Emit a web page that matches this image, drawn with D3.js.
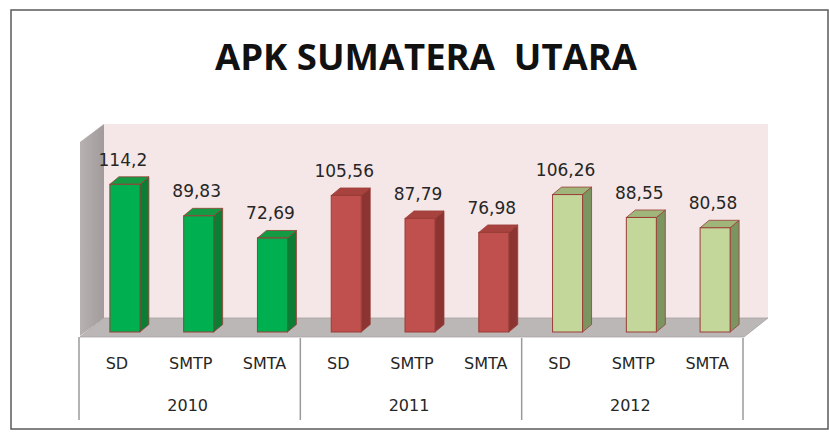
<!DOCTYPE html>
<html>
<head>
<meta charset="utf-8">
<script src="https://cdn.jsdelivr.net/npm/d3@7"></script>
<style>
  body { margin: 0; background: #fff; }
  svg { display: block; }
</style>
</head>
<body>
<svg id="chart" width="829" height="432"></svg>
<script>
// data
var years = ["2010", "2011", "2012"];
var levels = ["SD", "SMTP", "SMTA"];
var apk2010 = [114.2, 89.83, 72.69];
var apk2011 = [105.56, 87.79, 76.98];
var apk2012 = [106.26, 88.55, 80.58];
var labels2010 = ["114,2", "89,83", "72,69"];
var labels2011 = ["105,56", "87,79", "76,98"];
var labels2012 = ["106,26", "88,55", "80,58"];
var title = "APK SUMATERA  UTARA";

var series = [apk2010, apk2011, apk2012];
var seriesLabels = [labels2010, labels2011, labels2012];
var colors = [
    {front: "#00b050", side: "#0b7d34", top: "#159a44"},
    {front: "#c0504d", side: "#8c3431", top: "#a8423f"},
    {front: "#c4d79b", side: "#7c9460", top: "#9fb57a"}
];

var svg = d3.select("#chart");

// plot box
var left = 80, right = 744, base = 336;
var depthX = 24, depthY = 18;
var wallH = 194;

var x0 = d3.scaleBand().domain(years).range([left, right]);
var x1 = d3.scaleBand().domain(levels).range([0, x0.bandwidth()]);
var y = d3.scaleLinear().domain([0, 150]).range([0, wallH]);

// outer frame
svg.append("rect")
    .attr("x", 11).attr("y", 10)
    .attr("width", 817).attr("height", 419)
    .attr("fill", "#fff")
    .attr("stroke", "#5a5a5a")
    .attr("stroke-width", 1.5);

// title
svg.append("text")
    .attr("x", 426).attr("y", 70)
    .attr("text-anchor", "middle")
    .attr("font-family", "'Open Sans', sans-serif")
    .attr("font-weight", "bold")
    .attr("font-size", 35)
    .attr("fill", "#111")
    .attr("textLength", 422)
    .attr("lengthAdjust", "spacingAndGlyphs")
    .style("white-space", "pre")
    .text(title);

// back wall
svg.append("rect")
    .attr("x", left + depthX).attr("y", base - depthY - wallH)
    .attr("width", right - left).attr("height", wallH)
    .attr("fill", "#f5e7e7");

// side wall
var sideGrad = svg.append("defs").append("linearGradient")
    .attr("id", "sideGrad").attr("x1", 0).attr("x2", 1);
sideGrad.append("stop").attr("offset", 0).attr("stop-color", "#b7b1b1");
sideGrad.append("stop").attr("offset", 1).attr("stop-color", "#a29b9b");

svg.append("path")
    .attr("d", d3.line()([
        [left, base], [left + depthX, base - depthY],
        [left + depthX, base - depthY - wallH], [left, base - wallH]
    ]) + "Z")
    .attr("fill", "url(#sideGrad)");

// floor
svg.append("path")
    .attr("d", d3.line()([
        [left, base + 1], [left + depthX, base - depthY],
        [right + depthX, base - depthY], [right, base + 1]
    ]) + "Z")
    .attr("fill", "#bcb7b7")
    .attr("stroke", "#a8a3a3")
    .attr("stroke-width", 0.8);

// bars
var barW = 30, bdx = 9, bdy = 7.5, shiftX = 8, barBase = 332;
var bars = [];
years.forEach(function(yr, i) {
    levels.forEach(function(lv, j) {
        bars.push({year: yr, level: lv, value: series[i][j], label: seriesLabels[i][j], c: colors[i]});
    });
});

var g = svg.append("g");
bars.forEach(function(d) {
    var cx = x0(d.year) + x1(d.level) + x1.bandwidth() / 2 + shiftX;
    var xl = cx - barW / 2, xr = cx + barW / 2;
    var top = barBase - y(d.value);

    g.append("path")
        .attr("d", d3.line()([[xr, barBase], [xr + bdx, barBase - bdy], [xr + bdx, top - bdy], [xr, top]]) + "Z")
        .attr("fill", d.c.side).attr("stroke", "#9a3d38").attr("stroke-width", 0.8);
    g.append("path")
        .attr("d", d3.line()([[xl, top], [xl + bdx, top - bdy], [xr + bdx, top - bdy], [xr, top]]) + "Z")
        .attr("fill", d.c.top).attr("stroke", "#9a3d38").attr("stroke-width", 0.8);
    g.append("rect")
        .attr("x", xl).attr("y", top)
        .attr("width", barW).attr("height", barBase - top)
        .attr("fill", d.c.front).attr("stroke", "#9a3d38").attr("stroke-width", 1);

    g.append("text")
        .attr("x", cx - 2).attr("y", top - bdy - 11)
        .attr("text-anchor", "middle")
        .attr("font-family", "'DejaVu Sans', sans-serif")
        .attr("font-size", 17)
        .attr("fill", "#262626")
        .text(d.label);
});

// category axis box
var axisG = svg.append("g")
    .attr("stroke", "#9a9a9a").attr("stroke-width", 1.5);
axisG.append("line").attr("x1", left - 1).attr("x2", left - 1).attr("y1", base + 1).attr("y2", 420);
years.forEach(function(yr) {
    var xe = x0(yr) + x0.bandwidth();
    axisG.append("line").attr("x1", xe - 1).attr("x2", xe - 1).attr("y1", base + 2).attr("y2", 420);
});

bars.forEach(function(d) {
    svg.append("text")
        .attr("x", x0(d.year) + x1(d.level) + x1.bandwidth() / 2)
        .attr("y", 369)
        .attr("text-anchor", "middle")
        .attr("font-family", "'DejaVu Sans', sans-serif")
        .attr("font-size", 16)
        .attr("fill", "#262626")
        .text(d.level);
});

years.forEach(function(yr) {
    svg.append("text")
        .attr("x", x0(yr) + x0.bandwidth() / 2 - 3)
        .attr("y", 411)
        .attr("text-anchor", "middle")
        .attr("font-family", "'DejaVu Sans', sans-serif")
        .attr("font-size", 16)
        .attr("fill", "#262626")
        .text(yr);
});
</script>
</body>
</html>
